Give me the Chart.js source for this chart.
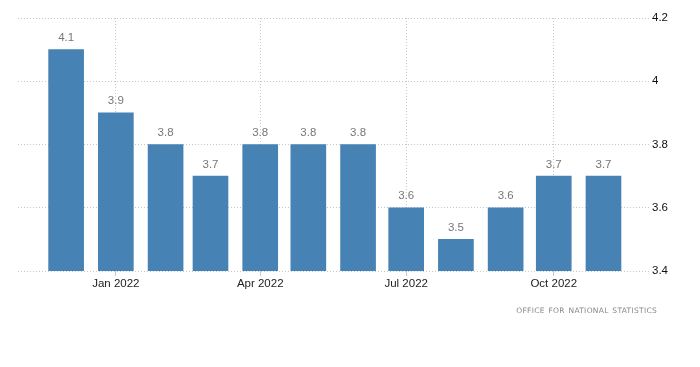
<!DOCTYPE html>
<html>
<head>
<meta charset="utf-8">
<script src="https://cdn.jsdelivr.net/npm/chart.js@4.4.0/dist/chart.umd.min.js"></script>
<style>
  body { margin: 0; background: #fff; }
  #wrap { position: relative; width: 700px; height: 367px; }
  #source {
    position: absolute; right: 43px; top: 306px;
    font: 7.5px "DejaVu Sans", sans-serif; letter-spacing: 0.3px; word-spacing: 1px;
    color: #888; white-space: nowrap;
  }
</style>
</head>
<body>
<div id="wrap">
  <canvas id="myChart" width="700" height="367"></canvas>
  <div id="source">OFFICE FOR NATIONAL STATISTICS</div>
</div>
<script>
// monthly unemployment rate, Dec 2021 - Nov 2022
const months = ['2021-12', '2022-01', '2022-02', '2022-03', '2022-04', '2022-05',
                '2022-06', '2022-07', '2022-08', '2022-09', '2022-10', '2022-11'];
const values = [4.1, 3.9, 3.8, 3.7, 3.8, 3.8, 3.8, 3.6, 3.5, 3.6, 3.7, 3.7];
const tickMonths = ['2022-01', '2022-04', '2022-07', '2022-10'];
const tickLabels = ['Jan 2022', 'Apr 2022', 'Jul 2022', 'Oct 2022'];

// days since 1 Jan 2022, so bars sit on a real time line
function dayOf(m) {
    const parts = m.split('-');
    return (Date.UTC(+parts[0], +parts[1] - 1, 1) - Date.UTC(2022, 0, 1)) / 86400000;
}

const points = months.map((m, i) => ({ x: dayOf(m), y: values[i] }));
const tickDays = tickMonths.map(dayOf);

const valueLabels = {
    id: 'valueLabels',
    afterDatasetsDraw(chart) {
        const ctx = chart.ctx;
        const meta = chart.getDatasetMeta(0);
        ctx.save();
        ctx.fillStyle = '#777';
        ctx.font = '11.5px "Liberation Sans", Arial, sans-serif';
        ctx.textAlign = 'center';
        ctx.textBaseline = 'bottom';
        meta.data.forEach((bar, i) => {
            ctx.fillText(values[i].toFixed(1), bar.x, bar.y - 6);
        });
        ctx.restore();
    }
};

const ctx = document.getElementById('myChart').getContext('2d');
const chart = new Chart(ctx, {
    type: 'bar',
    data: {
        datasets: [{
            data: points,
            backgroundColor: '#4682b4',
            barThickness: 35
        }]
    },
    options: {
        responsive: false,
        animation: false,
        layout: { padding: { left: 18, top: 18 } },
        plugins: { legend: { display: false }, tooltip: { enabled: false } },
        scales: {
            x: {
                type: 'linear',
                offset: false,
                min: -61,
                max: 333,
                afterBuildTicks: scale => {
                    scale.ticks = tickDays.map(d => ({ value: d }));
                },
                afterFit: scale => { scale.height = 96; },
                grid: { color: '#c8c8c8', tickLength: 5, offset: false },
                border: { display: false, dash: [1, 2] },
                ticks: {
                    padding: 1,
                    color: '#222',
                    maxRotation: 0,
                    font: { family: '"Liberation Sans", Arial, sans-serif', size: 11.5 },
                    callback: v => tickLabels[tickDays.indexOf(v)]
                }
            },
            y: {
                position: 'right',
                min: 3.4,
                max: 4.2,
                afterFit: scale => { scale.width = 50; },
                grid: { color: '#c8c8c8', drawTicks: false },
                border: { display: false, dash: [1, 2] },
                ticks: {
                    stepSize: 0.2,
                    padding: 2,
                    color: '#111',
                    font: { family: '"Liberation Sans", Arial, sans-serif', size: 11.5 },
                    callback: v => String(parseFloat(v.toFixed(1)))
                }
            }
        }
    },
    plugins: [valueLabels]
});
</script>
</body>
</html>
